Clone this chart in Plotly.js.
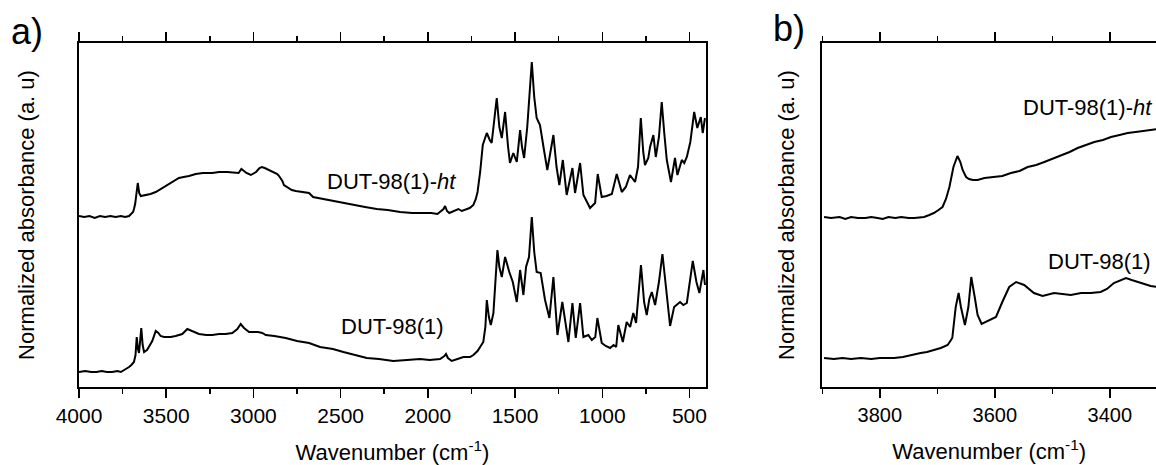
<!DOCTYPE html>
<html><head><meta charset="utf-8">
<script src="https://cdn.plot.ly/plotly-3.0.1.min.js"></script>
<style>html,body{margin:0;padding:0;background:#fff}</style>
</head><body>
<div id="chart" style="width:1156px;height:465px"></div>
<script>
// Panel a) full spectra, DUT-98(1)-ht
const wnA = [4000,3970,3940,3910,3880,3850,3820,3790,3760,3735,3713,3702,3690,3685,3678,3673,3668,3663,3658,3655,3646,3618,3590,3560,3530,3503,3465,3427,3400,3369,3331,3290,3236,3197,3150,3101,3085,3069,3055,3040,3015,2985,2965,2952,2935,2911,2880,2863,2853,2834,2825,2806,2780,2757,2720,2681,2658,2600,2544,2490,2429,2360,2293,2230,2159,2090,2026,1980,1945,1930,1910,1901,1890,1877,1850,1825,1805,1787,1760,1739,1725,1715,1700,1685,1662,1645,1634,1605,1590,1576,1557,1540,1529,1510,1490,1471,1460,1448,1430,1404,1390,1376,1357,1335,1315,1280,1262,1246,1226,1204,1171,1156,1127,1108,1090,1070,1041,1026,1003,975,945,917,888,865,841,812,795,779,765,755,736,726,707,693,675,659,645,630,606,583,569,544,530,515,495,473,455,435,424,411];
const absA_ht = [1.71,1.70,1.71,1.69,1.71,1.70,1.71,1.70,1.71,1.70,1.71,1.73,1.75,1.78,1.83,1.90,1.98,2.04,1.98,1.94,1.91,1.92,1.93,1.95,1.98,2.01,2.05,2.09,2.10,2.11,2.13,2.14,2.14,2.15,2.15,2.14,2.14,2.18,2.16,2.14,2.12,2.15,2.19,2.20,2.19,2.17,2.15,2.13,2.11,2.06,2.02,2.00,1.97,1.96,1.95,1.94,1.90,1.88,1.86,1.84,1.82,1.80,1.78,1.77,1.75,1.74,1.74,1.74,1.73,1.75,1.78,1.81,1.76,1.74,1.76,1.78,1.76,1.77,1.79,1.82,1.88,1.95,2.15,2.42,2.54,2.47,2.44,2.89,2.60,2.49,2.75,2.40,2.24,2.34,2.25,2.57,2.40,2.29,2.60,3.25,2.90,2.69,2.62,2.38,2.17,2.52,2.20,2.02,2.27,1.92,2.19,1.94,2.24,1.92,1.86,1.79,1.84,2.13,1.90,1.91,1.93,2.13,1.95,2.00,2.12,2.05,2.20,2.69,2.35,2.22,2.29,2.40,2.52,2.30,2.50,2.85,2.55,2.27,2.05,2.29,2.12,2.27,2.24,2.30,2.45,2.75,2.59,2.70,2.54,2.69];

// Panel a) DUT-98(1)
const wnA1 = [4000,3965,3930,3900,3870,3840,3810,3780,3760,3740,3725,3713,3700,3685,3676,3669,3662,3656,3650,3643,3635,3627,3610,3599,3580,3560,3545,3532,3513,3490,3474,3446,3408,3379,3350,3312,3270,3236,3197,3160,3121,3092,3073,3054,3025,2974,2949,2929,2880,2815,2750,2681,2618,2544,2484,2420,2350,2280,2198,2120,2045,1990,1950,1930,1905,1896,1885,1863,1830,1796,1758,1739,1715,1691,1682,1670,1662,1650,1639,1624,1601,1590,1576,1557,1545,1533,1513,1490,1471,1452,1437,1420,1404,1390,1376,1353,1328,1303,1280,1257,1229,1194,1171,1152,1127,1108,1080,1060,1040,1028,1003,980,955,935,920,908,882,860,840,822,806,778,760,745,730,716,697,675,655,640,630,611,588,570,554,535,515,481,460,443,430,420,411];
const absA_1 = [0.15,0.16,0.15,0.15,0.16,0.15,0.15,0.16,0.15,0.17,0.18,0.20,0.22,0.25,0.32,0.50,0.38,0.34,0.45,0.59,0.42,0.35,0.37,0.40,0.46,0.56,0.54,0.51,0.50,0.50,0.50,0.51,0.53,0.58,0.56,0.53,0.52,0.52,0.53,0.53,0.54,0.58,0.63,0.59,0.55,0.55,0.54,0.52,0.51,0.49,0.46,0.44,0.40,0.38,0.35,0.32,0.29,0.28,0.26,0.27,0.28,0.27,0.28,0.28,0.31,0.33,0.29,0.26,0.28,0.30,0.30,0.32,0.36,0.42,0.45,0.60,0.87,0.70,0.62,0.74,1.37,1.20,1.10,1.30,1.22,1.15,1.05,0.85,1.17,0.92,1.20,1.30,1.70,1.35,1.15,1.14,0.87,0.69,1.10,0.52,0.85,0.45,0.84,0.49,0.84,0.50,0.52,0.47,0.50,0.69,0.44,0.41,0.39,0.42,0.40,0.62,0.45,0.65,0.60,0.74,0.64,1.22,0.85,0.72,0.88,0.95,0.82,1.05,1.33,1.10,0.94,0.61,0.80,0.83,0.85,0.82,0.84,1.26,1.05,0.94,1.05,1.17,1.02];

// Panel b) OH region
const wnB_ht = [3897,3885,3870,3860,3850,3838,3825,3815,3804,3795,3785,3773,3763,3750,3740,3730,3723,3714,3706,3698,3691,3685,3679,3672,3665,3660,3656,3650,3645,3638,3630,3618,3601,3587,3572,3557,3543,3528,3514,3500,3485,3470,3456,3441,3427,3412,3398,3383,3369,3355,3340,3328,3317];
const absB_ht = [1.70,1.69,1.70,1.68,1.70,1.69,1.69,1.70,1.69,1.68,1.70,1.69,1.70,1.69,1.69,1.70,1.70,1.72,1.74,1.77,1.80,1.88,2.00,2.20,2.31,2.25,2.17,2.10,2.08,2.07,2.07,2.09,2.10,2.11,2.14,2.16,2.20,2.22,2.25,2.28,2.32,2.35,2.39,2.42,2.45,2.47,2.50,2.52,2.54,2.55,2.56,2.57,2.58];

const wnB_1 = [3897,3880,3865,3850,3833,3815,3800,3787,3775,3760,3746,3729,3718,3706,3694,3682,3674,3668,3663,3659,3652,3646,3641,3635,3630,3623,3613,3598,3587,3575,3563,3549,3532,3517,3497,3482,3468,3450,3433,3416,3405,3393,3382,3372,3362,3352,3340,3329,3317];
const absB_1 = [0.29,0.28,0.29,0.28,0.29,0.28,0.29,0.29,0.29,0.30,0.32,0.34,0.35,0.37,0.39,0.42,0.49,0.80,0.94,0.80,0.62,0.80,1.10,0.90,0.72,0.63,0.66,0.70,0.85,1.00,1.05,1.02,0.94,0.91,0.94,0.93,0.92,0.94,0.94,0.95,0.98,1.04,1.07,1.09,1.07,1.05,1.03,1.01,1.00];

const labelHt = 'DUT-98(1)-<i>ht</i>';
const label1 = 'DUT-98(1)';
const xTitle = 'Wavenumber (cm<sup>-1</sup>)';
const yTitle = 'Normalized absorbance (a. u)';

const FONT = 'Liberation Sans, Arial, sans-serif';
const line = {color:'#000', width:2};

const traces = [
  {x: wnA, y: absA_ht, xaxis:'x', yaxis:'y', mode:'lines', line, name: labelHt},
  {x: wnA1, y: absA_1, xaxis:'x', yaxis:'y', mode:'lines', line, name: label1},
  {x: wnB_ht, y: absB_ht, xaxis:'x2', yaxis:'y2', mode:'lines', line, name: labelHt},
  {x: wnB_1, y: absB_1, xaxis:'x2', yaxis:'y2', mode:'lines', line, name: label1}
];

function xax(domain, range, dtick, mdtick, fs){
  return {domain, range, dtick, tick0:0, ticks:'outside', ticklen:9, tickwidth:1.5, tickcolor:'#000',
    showline:true, linewidth:2, linecolor:'#000', mirror:'ticks', showgrid:false, zeroline:false,
    minor:{dtick:mdtick, tick0:0, ticks:'outside', ticklen:5, tickwidth:1.5, tickcolor:'#000', showgrid:false},
    tickfont:{family:FONT, size:fs, color:'#000'}, automargin:false,
    title:{text:xTitle, font:{family:FONT, size:22, color:'#000'}, standoff:19}};
}
function yax(anchor, mirror, standoff){
  return {domain:[0,1], anchor, range:[0,3.44], showline:true, linewidth:2, linecolor:'#000', mirror,
    ticks:'', showticklabels:false, showgrid:false, zeroline:false, automargin:false,
    title:{text:yTitle, font:{family:FONT, size:22, color:'#000'}, standoff}};
}

const layout = {
  width:1156, height:465, margin:{l:79, r:0, t:43, b:77.5},
  paper_bgcolor:'#fff', plot_bgcolor:'rgba(0,0,0,0)', showlegend:false,
  font:{family:FONT, color:'#000'},
  xaxis: Object.assign(xax([0,0.5822],[4000,405],500,250,21),{anchor:'y'}),
  yaxis: yax('x', true, 36),
  xaxis2: Object.assign(xax([0.6902,1],[3900,3319.7],200,100,20),{anchor:'y2'}),
  yaxis2: yax('x2', false, 20),
  annotations:[
    {text:labelHt, x:2211, y:2.06, xref:'x', yref:'y', xanchor:'center', yanchor:'middle', showarrow:false, font:{family:FONT,size:22,color:'#000'}},
    {text:label1, x:2200, y:0.61, xref:'x', yref:'y', xanchor:'center', yanchor:'middle', showarrow:false, font:{family:FONT,size:22,color:'#000'}},
    {text:labelHt, x:3438, y:2.795, xref:'x2', yref:'y2', xanchor:'center', yanchor:'middle', showarrow:false, font:{family:FONT,size:22,color:'#000'}},
    {text:label1, x:3418, y:1.26, xref:'x2', yref:'y2', xanchor:'center', yanchor:'middle', showarrow:false, font:{family:FONT,size:22,color:'#000'}},
    {text:'a)', x:-0.0487, y:1.0348, xref:'paper', yref:'paper', xanchor:'center', yanchor:'middle', showarrow:false, font:{family:FONT,size:36,color:'#000'}},
    {text:'b)', x:0.6592, y:1.0436, xref:'paper', yref:'paper', xanchor:'center', yanchor:'middle', showarrow:false, font:{family:FONT,size:36,color:'#000'}}
  ]
};

Plotly.newPlot('chart', traces, layout, {staticPlot:true, displayModeBar:false});
</script>
</body></html>
